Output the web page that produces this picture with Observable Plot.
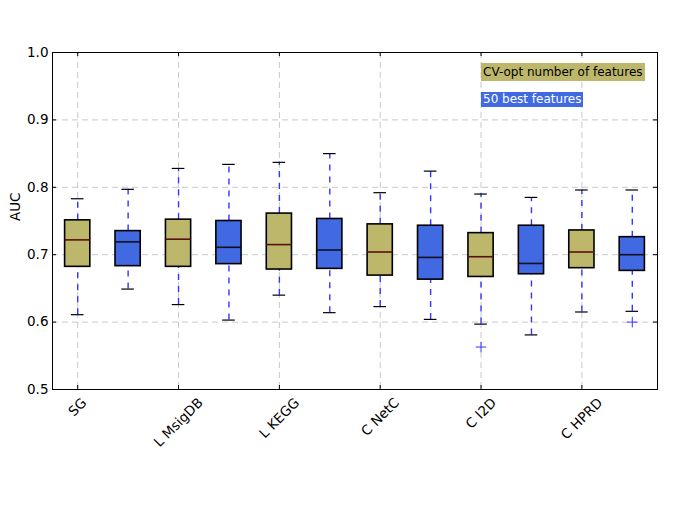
<!DOCTYPE html>
<html><head><meta charset="utf-8">
<script src="https://cdn.jsdelivr.net/npm/d3@7"></script>
<script src="https://cdn.jsdelivr.net/npm/@observablehq/plot@0.6"></script>
<style>
body{margin:0;background:#fff;}
#wrap{position:relative;width:692px;height:519px;font-family:"DejaVu Sans",sans-serif;}
#wrap svg{position:absolute;left:0;top:0;}
#wrap svg text{font-family:"DejaVu Sans",sans-serif;}
.leg{position:absolute;font-size:12px;white-space:nowrap;box-sizing:border-box;padding:0 2px;}
</style></head><body><div id="wrap"></div>
<script>
const categories = ["SG","L MsigDB","L KEGG","C NetC","C I2D","C HPRD"];
const seriesNames = ["CV-opt number of features","50 best features"];
const seriesColors = ["#BDB76B","#4169E1"];
const medianColors = ["#5a1010","#101020"];
// CV-opt number of features
const cvLow  = [0.611,0.626,0.640,0.623,0.597,0.615];
const cvQ1   = [0.682,0.682,0.678,0.669,0.667,0.680];
const cvMed  = [0.722,0.723,0.715,0.704,0.697,0.704];
const cvQ3   = [0.751,0.752,0.761,0.745,0.732,0.736];
const cvHigh = [0.783,0.828,0.837,0.792,0.790,0.796];
// 50 best features
const bestLow  = [0.649,0.603,0.614,0.604,0.581,0.616];
const bestQ1   = [0.683,0.686,0.679,0.663,0.671,0.676];
const bestMed  = [0.719,0.711,0.707,0.696,0.687,0.700];
const bestQ3   = [0.735,0.750,0.753,0.743,0.743,0.726];
const bestHigh = [0.797,0.834,0.850,0.824,0.785,0.796];
// outliers: category index, series index, value
const outlierCat = [4,5];
const outlierSeries = [0,1];
const outlierVal = [0.563,0.600];
const yTicks = [0.5,0.6,0.7,0.8,0.9,1.0];

const stats = [[cvLow,cvQ1,cvMed,cvQ3,cvHigh],[bestLow,bestQ1,bestMed,bestQ3,bestHigh]];
const table = [];
categories.forEach((c,i)=>{
  [0,1].forEach(s=>{
    const [lo,q1,me,q3,hi] = stats[s];
    table.push({pos:2*i+1+s, s, low:lo[i], q1:q1[i], med:me[i], q3:q3[i], high:hi[i]});
  });
});
const outliers = outlierVal.map((v,k)=>({pos:2*outlierCat[k]+1+outlierSeries[k], v}));
const xTicks = categories.map((c,i)=>2*i+1);
const bw = 0.25, cw = 0.125;

const W = 692, H = 519, mL = 52, mR = 35, mT = 52, mB = 130;
const FS = 13.5;
// matplotlib-style centred rotated labels: shift each label by half its rotated length
const ctx = document.createElement("canvas").getContext("2d");
ctx.font = FS + "px 'DejaVu Sans'";
const pxPerUnit = (W - mL - mR) / 12;
const xLabels = categories.map((c,i)=>({label:c, tick:xTicks[i], shift: 0.3536*ctx.measureText(c).width/pxPerUnit}));

const plot = Plot.plot({
  width:W, height:H, marginLeft:mL, marginRight:mR, marginTop:mT, marginBottom:mB,
  style:"font-family:'DejaVu Sans',sans-serif;font-size:13.5px;color:#000;background:#fff;",
  x:{domain:[0.5,12.5], axis:null},
  y:{domain:[0.5,1.0], axis:null},
  marks:[
    Plot.ruleX(xTicks, {x:d=>d, stroke:"#c8c8c8", strokeDasharray:"6,4"}),
    Plot.ruleY(yTicks.slice(1,-1), {y:d=>d, stroke:"#c8c8c8", strokeDasharray:"6,4"}),
    Plot.ruleX(table, {x:"pos", y1:"low", y2:"q1", stroke:"#3535ff", strokeWidth:1.4, strokeDasharray:"6,6"}),
    Plot.ruleX(table, {x:"pos", y1:"q3", y2:"high", stroke:"#3535ff", strokeWidth:1.4, strokeDasharray:"6,6"}),
    Plot.ruleY(table, {x1:d=>d.pos-cw, x2:d=>d.pos+cw, y:"low", stroke:"#000", strokeWidth:1.2}),
    Plot.ruleY(table, {x1:d=>d.pos-cw, x2:d=>d.pos+cw, y:"high", stroke:"#000", strokeWidth:1.2}),
    Plot.rect(table, {x1:d=>d.pos-bw, x2:d=>d.pos+bw, y1:"q1", y2:"q3", fill:d=>seriesColors[d.s], stroke:"#000", strokeWidth:1.6}),
    Plot.ruleY(table, {x1:d=>d.pos-bw, x2:d=>d.pos+bw, y:"med", stroke:d=>medianColors[d.s], strokeWidth:1.6}),
    Plot.dot(outliers, {x:"pos", y:"v", symbol:"plus", stroke:"#3535ff", r:3.5, strokeWidth:1}),
    Plot.frame({stroke:"#000", strokeWidth:1}),
    Plot.tickY(yTicks, {y:d=>d, insetRight:601, stroke:"#000"}),
    Plot.tickY(yTicks, {y:d=>d, insetLeft:601, stroke:"#000"}),
    Plot.tickX(xTicks, {x:d=>d, insetTop:333, stroke:"#000"}),
    Plot.tickX(xTicks, {x:d=>d, insetBottom:333, stroke:"#000"}),
    Plot.axisY({ticks:yTicks, tickFormat:".1f", tickSize:0, tickPadding:4, label:null, fontSize:FS}),
    Plot.text(xLabels, {x:d=>d.tick + d.shift, text:"label", frameAnchor:"bottom", dy:11, textAnchor:"end", lineAnchor:"middle", rotate:-45, fontSize:FS}),
    Plot.text(["AUC"], {text:d=>d, frameAnchor:"left", dx:-37, rotate:-90, fontSize:FS})
  ]
});
const wrap = document.getElementById("wrap");
wrap.appendChild(plot);
const leg = [
  {t:seriesNames[0], bg:seriesColors[0], fg:"#000", top:63, h:18},
  {t:seriesNames[1], bg:seriesColors[1], fg:"#fff", top:92, h:15}
];
leg.forEach(l=>{
  const d = document.createElement("div");
  d.className = "leg";
  d.textContent = l.t;
  d.style.background = l.bg; d.style.color = l.fg;
  d.style.left = "481px"; d.style.top = l.top+"px";
  d.style.height = l.h+"px"; d.style.lineHeight = l.h+"px";
  wrap.appendChild(d);
});
</script></body></html>
